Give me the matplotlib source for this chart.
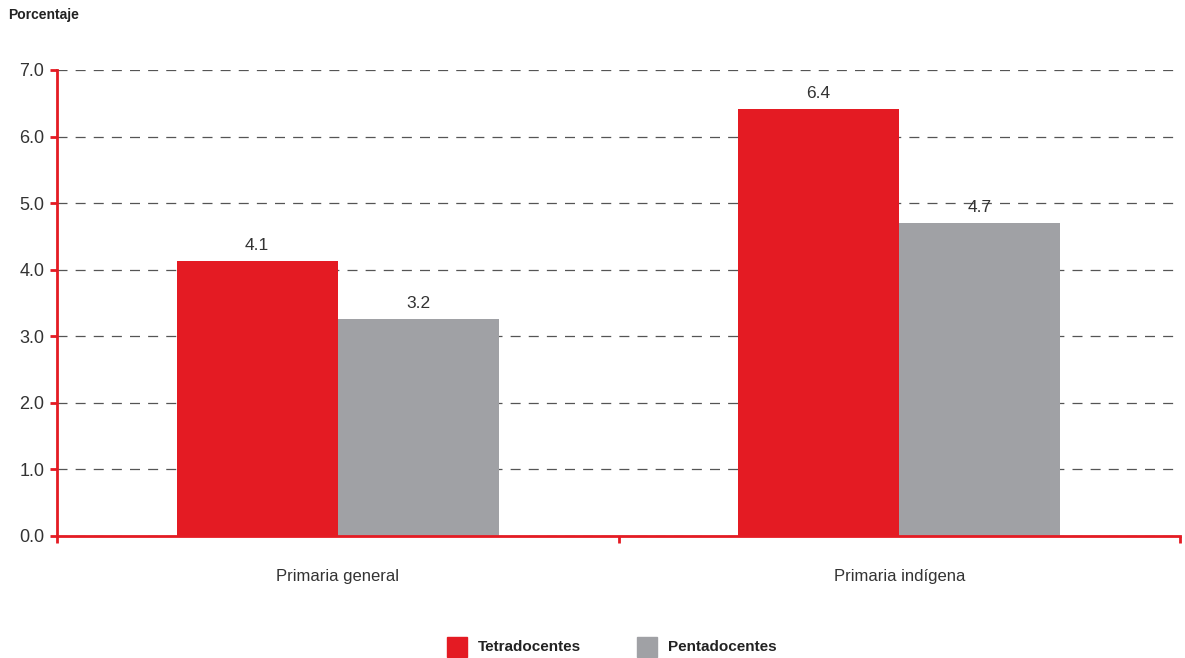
import matplotlib
matplotlib.use("Agg")
import matplotlib.pyplot as plt
from matplotlib.patches import Rectangle
import numpy as np

plt.rcParams['font.family'] = ['Liberation Sans', 'DejaVu Sans']

categories = ["Primaria general", "Primaria indígena"]
series_names = ["Tetradocentes", "Pentadocentes"]
tetra = [4.13, 6.41]
penta = [3.26, 4.70]
tetra_labels = ["4.1", "6.4"]
penta_labels = ["3.2", "4.7"]
yticks = [0, 1, 2, 3, 4, 5, 6, 7]

RED = "#E41B23"
GRAY = "#A0A1A5"
TXT = "#333333"

fig = plt.figure(figsize=(11.85, 6.58), dpi=100)
ax = fig.add_axes([57/1185, (658-536)/658, (1180-57)/1185, (536-70)/658])

x = np.arange(len(categories)) + 0.5
w = 0.287
ax.bar(x - w/2, tetra, width=w, color=RED, zorder=3)
ax.bar(x + w/2, penta, width=w, color=GRAY, zorder=3)
for xi, v, l in zip(x - w/2, tetra, tetra_labels):
    ax.text(xi, v + 0.12, l, ha='center', va='bottom', fontsize=12.5, color=TXT)
for xi, v, l in zip(x + w/2, penta, penta_labels):
    ax.text(xi, v + 0.12, l, ha='center', va='bottom', fontsize=12.5, color=TXT)

ax.set_xlim(0, 2)
ax.set_ylim(0, 7)
ax.set_yticks(yticks)
ax.set_yticklabels([f"{t:.1f}" for t in yticks], fontsize=13, color=TXT)
ax.set_xticks([0, 1, 2])
ax.set_xticklabels([])
ax.tick_params(axis='y', colors=RED, labelcolor=TXT, length=5, width=2, pad=4)
ax.tick_params(axis='x', colors=RED, length=5, width=2)
for xi, c in zip(x, categories):
    ax.text(xi, -0.5, c, ha='center', va='top', fontsize=12, color=TXT)

for s in ['top', 'right']:
    ax.spines[s].set_visible(False)
for s in ['left', 'bottom']:
    ax.spines[s].set_color(RED)
    ax.spines[s].set_linewidth(2)
ax.spines['left'].set_zorder(4)
ax.spines['bottom'].set_zorder(4)

ax.yaxis.grid(True, linestyle=(0, (8, 6.5)), color='#555555', linewidth=0.9, zorder=0)
ax.set_axisbelow(True)

fig.text(8/1185, 1 - 15/658, "Porcentaje", fontsize=10, fontweight='bold', color='#222222', va='center', ha='left')

# legend
ly = 1 - 647/658
sq = 20
for px, col, name in [(447, RED, series_names[0]), (637, GRAY, series_names[1])]:
    fig.patches.append(Rectangle((px/1185, ly - (sq/2)/658), sq/1185, sq/658,
                                 transform=fig.transFigure, color=col))
    fig.text((px + 31)/1185, ly, name, fontsize=11, fontweight='bold', color='#222222', va='center', ha='left')

fig.savefig("out.png", dpi=100)
